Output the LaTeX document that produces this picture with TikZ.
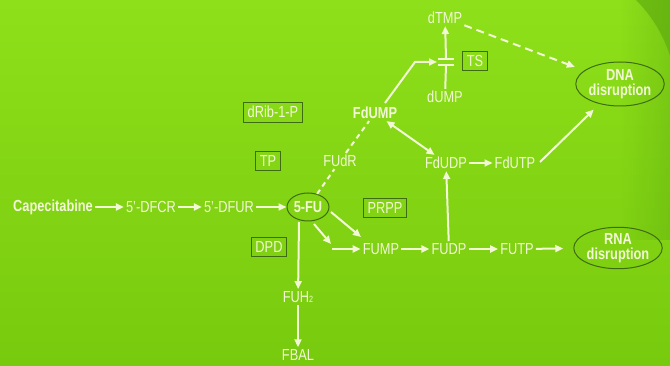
\documentclass[tikz,border=0pt]{standalone}
\usepackage{fontspec}
\setmainfont{Liberation Sans}[FakeStretch=0.8]
\usetikzlibrary{arrows.meta,fadings,shapes.geometric}
\definecolor{bgtop}{RGB}{142,224,26}
\definecolor{bgbot}{RGB}{120,202,14}
\definecolor{bgdark}{RGB}{84,160,12}
\definecolor{ink}{RGB}{242,247,214}
\definecolor{frame}{RGB}{62,108,18}
\tikzfading[name=toright, left color=transparent!100, right color=transparent!0]
\tikzset{
  lbl/.style={text=ink, inner sep=2pt, font=\fontsize{16}{17}\selectfont},
  boxed/.style={lbl, draw=frame, line width=0.7pt, inner xsep=4pt, inner ysep=4pt},
  ell/.style={lbl, ellipse, draw=frame, line width=1pt, inner sep=0pt, align=center,
              font=\fontsize{16}{15}\selectfont\bfseries},
  link/.style={draw=ink, line width=2pt},
  tip/.style={-{Triangle[length=8pt,width=7pt]}},
  arr/.style={link, tip},
  darr/.style={link, {Triangle[length=8pt,width=7pt]}-{Triangle[length=8pt,width=7pt]}},
  dsh/.style={link, dash pattern=on 5pt off 4pt},
  longdsh/.style={link, dash pattern=on 8pt off 5pt},
}
\begin{document}
\begin{tikzpicture}[x=1pt,y=-1pt]
% background
\useasboundingbox (0,0) rectangle (670,366);
\shade[top color=bgtop, bottom color=bgbot] (0,0) rectangle (670,366);
\fill[bgdark, path fading=toright, opacity=0.3] (620,0) rectangle (670,240);
\fill[bgdark, opacity=0.5] (636,0) .. controls (652,16) and (664,36) .. (670,56) -- (670,0) -- cycle;

% main chain
\node[lbl] (cap)  at (53,207)  {\bfseries Capecitabine};
\node[lbl] (dfcr) at (151,207) {5'-DFCR};
\node[lbl] (dfur) at (229,207) {5'-DFUR};
\node[ell, minimum width=42pt, minimum height=28pt] (fu) at (308,207) {5-FU};

% enzyme / cofactor boxes
\node[boxed] (drib) at (273,112) {dRib-1-P};
\node[boxed] (tp)   at (268,161) {TP};
\node[boxed] (prpp) at (385,208) {PRPP};
\node[boxed] (dpd)  at (269,247) {DPD};
\node[boxed] (ts)   at (475,61)  {TS};

% metabolites
\node[lbl] (fudr)  at (340,161) {FUdR};
\node[lbl] (fdump) at (375,113) {\bfseries FdUMP};
\node[lbl] (dtmp)  at (445,18)  {dTMP};
\node[lbl] (dump)  at (445,97)  {dUMP};
\node[lbl] (fdudp) at (446,163) {FdUDP};
\node[lbl] (fdutp) at (515,163) {FdUTP};
\node[lbl] (fump)  at (381,249) {FUMP};
\node[lbl] (fudp)  at (449,249) {FUDP};
\node[lbl] (futp)  at (517,249) {FUTP};
\node[lbl] (fuh)   at (298,297) {FUH\raisebox{-0.5pt}{\fontsize{9}{9}\selectfont 2}};
\node[lbl] (fbal)  at (298,355) {FBAL};

% outcomes
\node[ell, minimum width=86pt, minimum height=44pt] (dna) at (620,84) {DNA\\disruption};
\node[ell, minimum width=85pt, minimum height=40pt] (rna) at (618,248) {RNA\\disruption};

% thymidylate synthase block
\coordinate (tsup) at (446,59);
\coordinate (tslo) at (446,65);
\coordinate (tsin) at (437,62);
\coordinate (knee) at (415,62);
\coordinate (fdtop) at (385,103);
\draw[ink, line width=2pt] (438,59) -- (454,59) (438,65) -- (454,65);
\draw[link] (dump) -- (tslo);
\draw[arr] (tsup) -- (dtmp);
\draw[arr] (fdtop) -- (knee) -- (tsin);

% arrows along the main chain
\draw[arr] (cap) -- (dfcr);
\draw[arr] (dfcr) -- (dfur);
\draw[arr] (dfur) -- (fu);

% 5-FU to FdUMP via FUdR
\draw[dsh] (fu) -- (fudr);
\draw[dsh] (fudr) -- (fdump);

% 5-FU to FUMP
\coordinate (d1s) at (331,212);
\coordinate (d1e) at (361,237);
\coordinate (d2s) at (314,224);
\coordinate (d2e) at (331,244);
\coordinate (hs)  at (332,249);
\draw[arr] (d1s) -- (d1e);
\draw[arr] (d2s) -- (d2e);
\draw[arr] (hs) -- (fump);

% catabolic branch
\coordinate (fubot) at (299,222);
\draw[arr] (fubot) -- (fuh);
\draw[arr] (fuh) -- (fbal);

% nucleotide conversions
\draw[arr] (fump) -- (fudp);
\draw[arr] (fudp) -- (futp);
\draw[arr, shorten >=10pt] (futp) -- (rna);
\draw[arr] (fudp) -- (fdudp);
\draw[arr] (fdudp) -- (fdutp);
\draw[darr] (fdump) -- (fdudp);
\coordinate (fdutpout) at (540,162);
\draw[arr, shorten >=8pt] (fdutpout) -- (dna);
\draw[longdsh, tip, shorten >=10pt] (dtmp) -- (dna);
\end{tikzpicture}
\end{document}
